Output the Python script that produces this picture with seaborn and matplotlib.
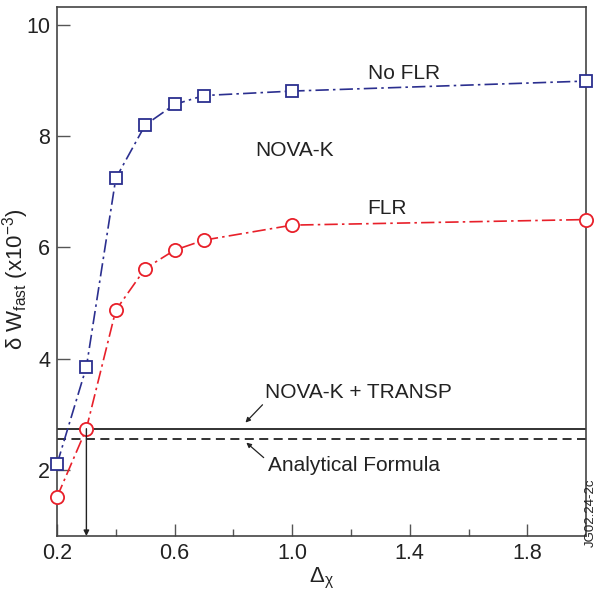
import matplotlib
matplotlib.use("Agg")
import matplotlib.pyplot as plt
import seaborn as sns
import pandas as pd

delta_chi = [0.2, 0.3, 0.4, 0.5, 0.6, 0.7, 1.0, 2.0]
no_flr = [2.10, 3.85, 7.24, 8.20, 8.57, 8.73, 8.81, 8.99]
flr = [1.51, 2.74, 4.87, 5.62, 5.95, 6.13, 6.40, 6.50]
nova_transp = 2.74
analytical = 2.56
x_ticks = [0.2, 0.6, 1.0, 1.4, 1.8]
y_ticks = [2, 4, 6, 8, 10]

sns.set_theme(style="white")
plt.rcParams['font.family'] = ['Liberation Sans', 'DejaVu Sans']
plt.rcParams['mathtext.fontset'] = 'custom'
plt.rcParams['mathtext.rm'] = 'Liberation Sans'
plt.rcParams['mathtext.it'] = 'Liberation Sans'

fig = plt.figure(figsize=(5.98, 5.91), dpi=100)
ax = fig.add_axes([0.0953, 0.093, 0.885, 0.895])

blue = "#2b2f8f"
red = "#e8202a"
ink = "#222222"
df = pd.DataFrame({"x": delta_chi, "nf": no_flr, "f": flr})

sns.lineplot(data=df, x="x", y="nf", ax=ax, color=blue, linestyle=(0, (8, 2.5, 1.5, 2.5)),
             linewidth=1.2, marker="s", markersize=8.5, markerfacecolor="white",
             markeredgecolor=blue, markeredgewidth=1.3, clip_on=False, zorder=3)
sns.lineplot(data=df, x="x", y="f", ax=ax, color=red, linestyle=(0, (8, 2.5, 1.5, 2.5)),
             linewidth=1.2, marker="o", markersize=9.5, markerfacecolor="white",
             markeredgecolor=red, markeredgewidth=1.3, clip_on=False, zorder=3)

ax.axhline(nova_transp, color=ink, linewidth=1.3, zorder=2)
ax.axhline(analytical, color=ink, linewidth=1.3, linestyle=(0, (5, 3)), zorder=2)

ax.set_xlim(0.2, 2.0)
ax.set_ylim(0.81, 10.32)

ax.annotate("", xy=(0.3, 0.81), xytext=(0.3, nova_transp),
            arrowprops=dict(arrowstyle="-|>", color=ink, lw=1.0, mutation_scale=8,
                            shrinkA=0, shrinkB=0))

ax.text(0.906, 3.39, "NOVA-K + TRANSP", fontsize=15, color=ink, ha="left", va="center")
ax.annotate("", xy=(0.841, 2.85), xytext=(0.899, 3.17),
            arrowprops=dict(arrowstyle="-|>", color=ink, lw=0.9, mutation_scale=7,
                            shrinkA=0, shrinkB=0))
ax.text(0.916, 2.07, "Analytical Formula", fontsize=15, color=ink, ha="left", va="center")
ax.annotate("", xy=(0.844, 2.49), xytext=(0.903, 2.22),
            arrowprops=dict(arrowstyle="-|>", color=ink, lw=0.9, mutation_scale=7,
                            shrinkA=0, shrinkB=0))

ax.text(1.379, 9.12, "No FLR", fontsize=15, color=ink, ha="center", va="center")
ax.text(1.008, 7.75, "NOVA-K", fontsize=15, color=ink, ha="center", va="center")
ax.text(1.324, 6.70, "FLR", fontsize=15, color=ink, ha="center", va="center")

ax.set_xticks(x_ticks)
ax.set_xticklabels([f"{t:.1f}" for t in x_ticks])
ax.set_xticks([0.4, 0.8, 1.2, 1.6], minor=True)
ax.set_yticks(y_ticks)
ax.set_yticklabels([str(t) for t in y_ticks])
ax.tick_params(axis="both", which="major", direction="in", length=9, width=1.0,
               color="#555555", labelsize=15.5, labelcolor=ink, pad=5)
ax.tick_params(axis="x", which="minor", direction="in", length=5, width=1.0,
               color="#555555", bottom=True)
ax.tick_params(axis="x", which="major", bottom=True)
ax.tick_params(axis="y", which="major", left=True)

for s in ax.spines.values():
    s.set_color("#444444")
    s.set_linewidth(1.2)

ax.set_xlabel(r"$\Delta_{\chi}$", fontsize=16, color=ink)
ax.xaxis.set_label_coords(0.5, -0.056)
ax.set_ylabel(r"δ W$_{\rm fast}$ (x10$^{-3}$)", fontsize=16, color=ink)
ax.yaxis.set_label_coords(-0.05, 0.486)

fig.text(0.988, 0.132, "JG02.24-2c", rotation=90, fontsize=9.5, color=ink,
         ha="center", va="center")

fig.savefig("out.png", dpi=100)
